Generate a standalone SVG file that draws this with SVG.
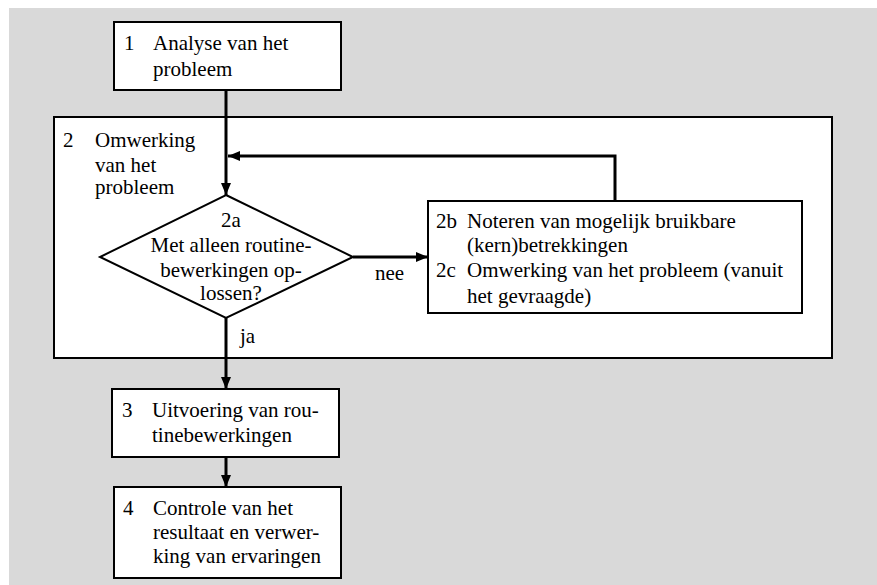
<svg xmlns="http://www.w3.org/2000/svg" width="877" height="585" viewBox="0 0 877 585">
<style>
.box{fill:#fff;stroke:#000;stroke-width:2}
.t{font-family:'Liberation Serif','Times New Roman',Tinos,'Nimbus Roman','DejaVu Serif',serif;font-size:21px;fill:#000}
.m{text-anchor:middle}
.c{fill:none;stroke:#000;stroke-width:3}
</style>
<defs>
<marker id="ah" markerUnits="userSpaceOnUse" markerWidth="12" markerHeight="10" refX="12" refY="5" orient="auto">
<path d="M0,0 L12,5 L0,10 Z" fill="#000"/>
</marker>
</defs>
<rect x="0" y="0" width="877" height="585" fill="#fff"/>
<rect x="9" y="8" width="868" height="577" fill="#d9d9d9"/>
<g font-family="Liberation Serif, Times New Roman, serif">
<g id="n2">
<rect class="box" x="54" y="117" width="778" height="241"/>
<text class="t" x="63" y="147">2</text>
<text class="t" x="95" y="147">Omwerking</text>
<text class="t" x="95" y="172">van het</text>
<text class="t" x="95" y="194">probleem</text>
</g>
<g id="n1">
<rect class="box" x="114" y="22" width="227" height="68"/>
<text class="t" x="124" y="50">1</text>
<text class="t" x="153" y="50">Analyse van het</text>
<text class="t" x="153" y="76">probleem</text>
</g>
<g id="n2a">
<polygon class="box" points="226,195 353,257 226,318 100,257"/>
<text class="t m" x="231" y="227">2a</text>
<text class="t m" x="231" y="252">Met alleen routine-</text>
<text class="t m" x="231" y="277">bewerkingen op-</text>
<text class="t m" x="231" y="300">lossen?</text>
</g>
<g id="n2b">
<rect class="box" x="428" y="201" width="374" height="112"/>
<text class="t" x="436" y="228">2b</text>
<text class="t" x="467" y="228">Noteren van mogelijk bruikbare</text>
<text class="t" x="467" y="252">(kern)betrekkingen</text>
<text class="t" x="436" y="277">2c</text>
<text class="t" x="467" y="277">Omwerking van het probleem (vanuit</text>
<text class="t" x="467" y="303">het gevraagde)</text>
</g>
<g id="n3">
<rect class="box" x="112" y="389" width="227" height="68"/>
<text class="t" x="122" y="417">3</text>
<text class="t" x="152" y="417">Uitvoering van rou-</text>
<text class="t" x="152" y="442">tinebewerkingen</text>
</g>
<g id="n4">
<rect class="box" x="114" y="487" width="227" height="91"/>
<text class="t" x="123" y="515">4</text>
<text class="t" x="153" y="515">Controle van het</text>
<text class="t" x="153" y="539">resultaat en verwer-</text>
<text class="t" x="153" y="563">king van ervaringen</text>
</g>
<g id="connectors">
<path class="c" d="M226,90 L226,195" marker-end="url(#ah)"/>
<path class="c" d="M615,201 L615,156 L228,156" marker-end="url(#ah)"/>
<path class="c" d="M353,257 L428,257" marker-end="url(#ah)"/>
<path class="c" d="M226,318 L226,389" marker-end="url(#ah)"/>
<path class="c" d="M226,457 L226,487" marker-end="url(#ah)"/>
<text class="t" x="375" y="280">nee</text>
<text class="t" x="240" y="343">ja</text>
</g>
</g>
</svg>
